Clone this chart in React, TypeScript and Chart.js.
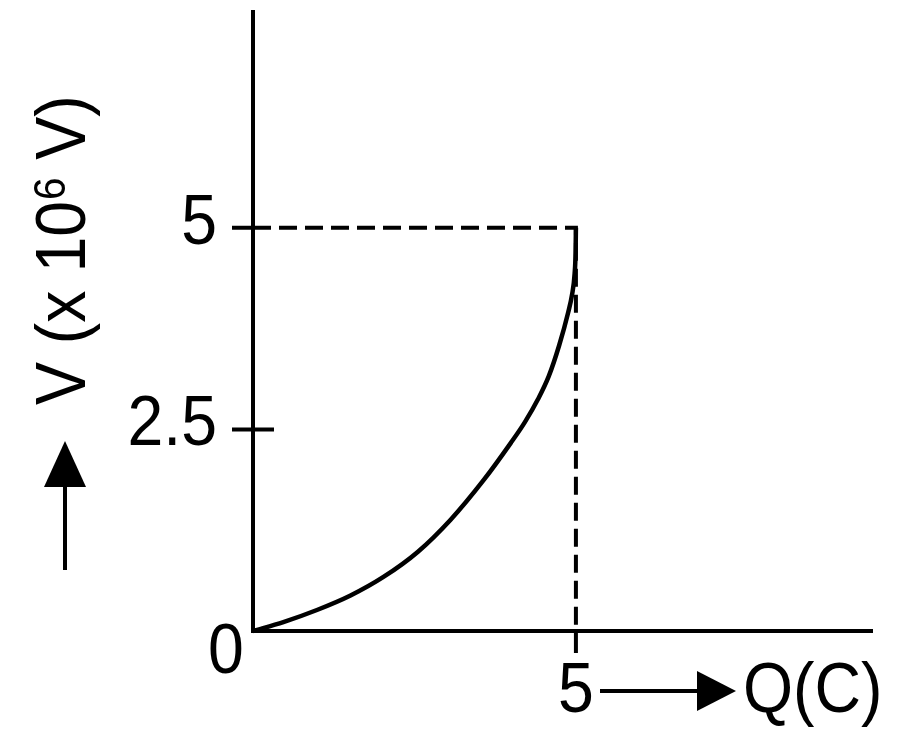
import { useEffect, useRef } from "react"
import { Chart, registerables } from "chart.js"

Chart.register(...registerables)

// V-Q curve (Q in C, V in 10^6 V)
const Q_VALUES = [0, 0.47, 0.99, 1.51, 2.02, 2.55, 3.06, 3.57, 3.99, 4.21, 4.41, 4.58, 4.74, 4.88, 4.94, 4.98, 4.995, 5.0]
const V_VALUES = [0, 0.11, 0.26, 0.44, 0.67, 0.98, 1.38, 1.87, 2.33, 2.59, 2.87, 3.16, 3.54, 3.95, 4.17, 4.43, 4.7, 5.0]

// dashed guide from the V axis to the end point and down to the Q axis
const GUIDE_Q = [0, 5, 5]
const GUIDE_V = [5, 5, 0]

// tick values and their labels
const Y_TICKS = [5, 2.5]
const Y_TICK_LABELS = ["5", "2.5"]
const X_TICKS = [5]
const X_TICK_LABELS = ["5"]

// axis extents
const Q_MAX = 9.6
const V_MAX = 7.7

const FONT = "Liberation Sans, Arial, sans-serif"
const SQUEEZE = 0.92

function squeezedText(ctx: CanvasRenderingContext2D, text: string, x: number, y: number, align: CanvasTextAlign, size: number) {
    ctx.save()
    ctx.translate(x, y)
    ctx.scale(SQUEEZE, 1)
    ctx.font = `${size}px ${FONT}`
    ctx.textAlign = align
    ctx.textBaseline = "alphabetic"
    ctx.fillText(text, 0, 0)
    ctx.restore()
}

// axes, ticks, labels and arrows drawn from the chart's own scales
const axesPlugin = {
    id: "physicsAxes",
    afterDraw(chart: Chart) {
        const ctx = chart.ctx
        const xs = chart.scales.x
        const ys = chart.scales.y
        const area = chart.chartArea
        const x0 = xs.getPixelForValue(0)
        const y0 = ys.getPixelForValue(0)

        ctx.save()
        ctx.strokeStyle = "#000"
        ctx.fillStyle = "#000"
        ctx.lineWidth = 4
        ctx.lineCap = "butt"

        // axes
        ctx.beginPath()
        ctx.moveTo(x0, area.top)
        ctx.lineTo(x0, y0 + 2)
        ctx.moveTo(x0 - 2, y0)
        ctx.lineTo(area.right, y0)
        ctx.stroke()

        // y ticks
        Y_TICKS.forEach((v, i) => {
            const py = ys.getPixelForValue(v)
            ctx.beginPath()
            ctx.moveTo(x0 - 21, py)
            ctx.lineTo(v === 5 ? x0 : x0 + 21, py)
            ctx.stroke()
            squeezedText(ctx, Y_TICK_LABELS[i], x0 - 36, py + 16, "right", 70)
        })

        // x ticks
        X_TICKS.forEach((q, i) => {
            const px = xs.getPixelForValue(q)
            ctx.beginPath()
            ctx.moveTo(px, y0)
            ctx.lineTo(px, y0 + 22)
            ctx.stroke()
            squeezedText(ctx, X_TICK_LABELS[i], px, y0 + 81, "center", 70)
        })

        // origin
        squeezedText(ctx, "0", x0 - 27, y0 + 42, "center", 70)

        // x title with arrow
        const ay = y0 + 60
        ctx.beginPath()
        ctx.moveTo(600, ay)
        ctx.lineTo(700, ay)
        ctx.stroke()
        ctx.beginPath()
        ctx.moveTo(736, ay)
        ctx.lineTo(697, ay - 20)
        ctx.lineTo(697, ay + 20)
        ctx.closePath()
        ctx.fill()
        squeezedText(ctx, "Q(C)", 743, y0 + 81, "left", 70)

        // y title with arrow
        const ax = 65
        ctx.beginPath()
        ctx.moveTo(ax, 570)
        ctx.lineTo(ax, 480)
        ctx.stroke()
        ctx.beginPath()
        ctx.moveTo(ax, 441)
        ctx.lineTo(ax - 21, 487)
        ctx.lineTo(ax + 21, 487)
        ctx.closePath()
        ctx.fill()

        ctx.save()
        ctx.translate(85, 405)
        ctx.rotate(-Math.PI / 2)
        ctx.scale(SQUEEZE, 1)
        ctx.textAlign = "left"
        ctx.textBaseline = "alphabetic"
        ctx.font = `70px ${FONT}`
        const part1 = "V (x 10"
        ctx.fillText(part1, 0, 0)
        let off = ctx.measureText(part1).width
        ctx.font = `44px ${FONT}`
        ctx.fillText("6", off + 1, -20)
        off += ctx.measureText("6").width + 1
        ctx.font = `70px ${FONT}`
        ctx.fillText(" V)", off, 0)
        ctx.restore()

        ctx.restore()
    },
}

export default function App() {
    const chartRef = useRef<HTMLCanvasElement>(null)
    const chartInstance = useRef<Chart | null>(null)

    useEffect(() => {
        if (!chartRef.current) return
        if (chartInstance.current) chartInstance.current.destroy()
        const ctx = chartRef.current.getContext("2d")
        if (!ctx) return

        chartInstance.current = new Chart(ctx, {
            type: "scatter",
            data: {
                datasets: [
                    {
                        label: "guide",
                        data: GUIDE_Q.map((q, i) => ({ x: q, y: GUIDE_V[i] })),
                        showLine: true,
                        borderColor: "#000",
                        borderWidth: 4,
                        borderDash: [18, 8],
                        pointRadius: 0,
                        tension: 0,
                        clip: false,
                    },
                    {
                        label: "V",
                        data: Q_VALUES.map((q, i) => ({ x: q, y: V_VALUES[i] })),
                        showLine: true,
                        borderColor: "#000",
                        borderWidth: 4.5,
                        pointRadius: 0,
                        cubicInterpolationMode: "monotone",
                        clip: false,
                    },
                ],
            },
            options: {
                responsive: false,
                animation: false,
                devicePixelRatio: 1,
                layout: { padding: { left: 253, top: 10, right: 27, bottom: 115 } },
                scales: {
                    x: { type: "linear", min: 0, max: Q_MAX, display: false },
                    y: { type: "linear", min: 0, max: V_MAX, display: false },
                },
                plugins: {
                    legend: { display: false },
                    tooltip: { enabled: false },
                },
            },
            plugins: [axesPlugin],
        })

        return () => {
            if (chartInstance.current) {
                chartInstance.current.destroy()
                chartInstance.current = null
            }
        }
    }, [])

    return (
        <div style={{ position: "absolute", left: 0, top: 0, width: 900, height: 746, background: "#fff" }}>
            <canvas ref={chartRef} width={900} height={746}></canvas>
        </div>
    )
}
